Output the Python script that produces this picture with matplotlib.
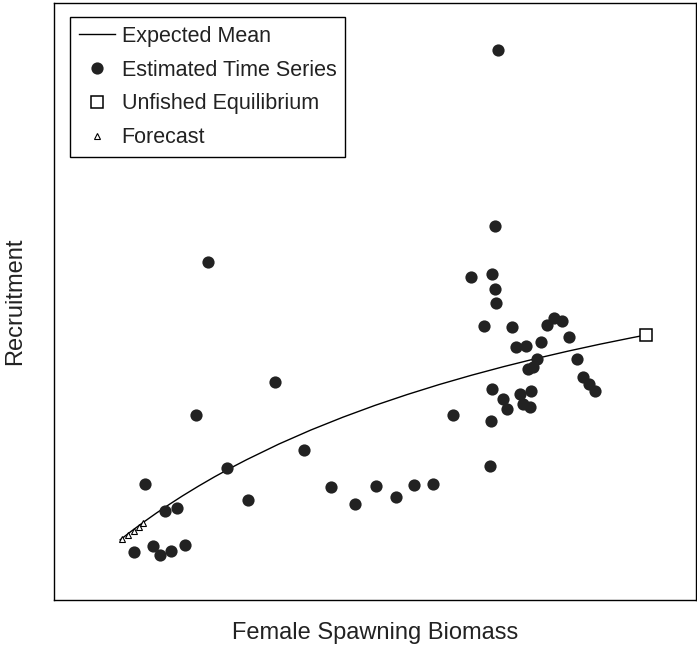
import matplotlib.pyplot as plt
import numpy as np

plt.rcParams['font.family'] = ['Liberation Sans', 'DejaVu Sans']

# estimated spawning biomass / recruitment pairs
ssb = [12.5, 15.4, 16.5, 18.2, 20.4, 17.3, 19.2, 14.2, 22.1, 24.0,
       26.9, 30.2, 34.4, 38.9, 43.1, 46.9, 50.2, 53.3, 56.1, 59.0,
       62.1, 69.2, 68.7, 65.0, 68.2, 68.7, 68.8, 67.0, 71.3, 72.0,
       73.5, 75.9, 76.8, 77.9, 79.1, 80.2, 75.2, 74.6, 73.8, 81.5,
       82.4, 83.3, 84.3, 68.2, 69.9, 70.6, 72.6, 74.3, 73.1, 74.1,
       68.1, 67.9]
rec = [8.0, 9.0, 7.5, 8.2, 9.2, 14.9, 15.4, 19.4, 31.0, 56.6,
       22.1, 16.8, 36.5, 25.1, 18.9, 16.1, 19.1, 17.3, 19.3, 19.4,
       31.0, 92.1, 62.6, 54.1, 54.6, 52.1, 49.7, 45.9, 45.7, 42.4,
       42.5, 43.2, 46.1, 47.2, 46.7, 44.1, 40.4, 39.0, 38.7, 40.4,
       37.4, 36.2, 35.0, 35.3, 33.7, 32.0, 34.5, 35.0, 32.8, 32.3,
       30.0, 22.4]

# expected mean recruitment curve
curve_ssb = [10.3, 12, 14, 16, 18, 20, 22.5, 25, 27.5, 30, 35, 40, 45,
             50, 55, 60, 65, 70, 75, 80, 85, 90, 92.2]
curve_rec = [10.07, 11.49, 13.08, 14.60, 16.04, 17.43, 19.07, 20.63,
             22.10, 23.50, 26.11, 28.47, 30.62, 32.60, 34.41, 36.09,
             37.64, 39.08, 40.42, 41.67, 42.84, 43.93, 44.39]

# unfished equilibrium
b0 = [92.2]
r0 = [44.4]

# forecast years
fc_ssb = [10.6, 11.5, 12.5, 13.2, 13.9]
fc_rec = [10.2, 10.9, 11.6, 12.2, 12.9]

fig = plt.figure(figsize=(6.97, 6.47), dpi=100)
ax = fig.add_axes([54 / 697, 47 / 647, 642 / 697, 597 / 647])

ax.plot(curve_ssb, curve_rec, color='black', lw=1.0, label='Expected Mean')
ax.plot(ssb, rec, 'o', color='#222222', ms=8.8, mew=0, label='Estimated Time Series')
ax.plot(b0, r0, 's', mfc='white', mec='black', mew=1.1, ms=9, label='Unfished Equilibrium')
ax.plot(fc_ssb, fc_rec, '^', mfc='white', mec='black', mew=0.8, ms=4.5, label='Forecast')

ax.set_xlim(0, 100)
ax.set_ylim(0, 100)
ax.set_xticks([])
ax.set_yticks([])
for s in ax.spines.values():
    s.set_linewidth(1.0)

ax.set_xlabel('Female Spawning Biomass', fontsize=17, labelpad=16, color='#222222')
ax.set_ylabel('Recruitment', fontsize=17, labelpad=20, color='#222222')

leg = ax.legend(loc='upper left', bbox_to_anchor=(16 / 642, 1 - 14 / 597),
                borderaxespad=0, fontsize=15.5, fancybox=False, edgecolor='black',
                framealpha=1, handlelength=1.7, handletextpad=0.3,
                labelspacing=0.6, borderpad=0.4)
leg.get_frame().set_linewidth(1.0)
for t in leg.get_texts():
    t.set_color('#222222')

fig.savefig('out.png', dpi=100)
